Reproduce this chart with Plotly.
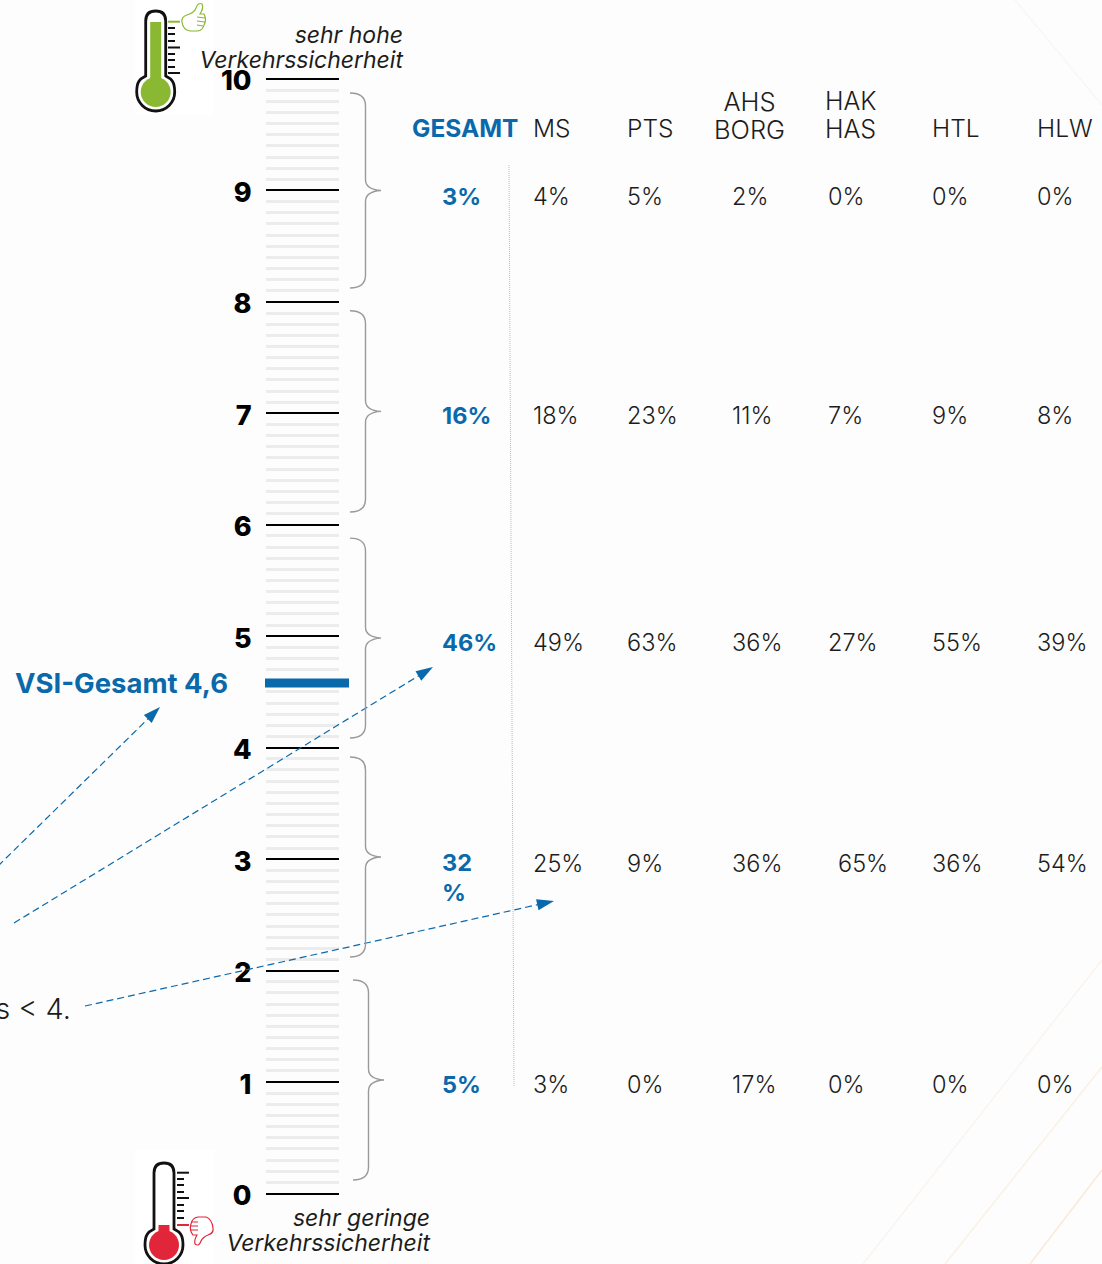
import plotly.graph_objects as go

# ---- data ----
bands = ["8-10", "6-8", "4-6", "2-4", "0-2"]
gesamt_labels = ["3%", "16%", "46%", "32<br>%", "5%"]
ms = ["4%", "18%", "49%", "25%", "3%"]
pts = ["5%", "23%", "63%", "9%", "0%"]
ahs = ["2%", "11%", "36%", "36%", "17%"]
hak = ["0%", "7%", "27%", "65%", "0%"]
htl = ["0%", "9%", "55%", "36%", "0%"]
hlw = ["0%", "8%", "39%", "54%", "0%"]
vsi_gesamt = 4.58
major_ticks = [0, 1, 2, 3, 4, 5, 6, 7, 8, 9, 10]

# ---- layout helpers (kept apart from the data) ----
W, H = 1102, 1264
Y0, PER = 1193.5, 111.45
BLUE = "#0a69ab"
INK = "#1c1c1c"
FONT = "Inter"
LIGHT = 300
row_y = [8.923, 6.958, 4.921, 2.938, 0.955]
gesamt_y = [8.923, 6.958, 4.921, 2.81, 0.955]
col_x = [533, 627, 732, 828, 932, 1037]
brace_spans = [(9.875, 8.125, 350), (7.92, 6.115, 350), (5.88, 4.087, 350), (3.917, 2.122, 350), (1.916, 0.121, 353)]
minor_ticks = [v / 10 for v in range(1, 100) if v % 10]


def px_to_val(p):
    return (Y0 - p) / PER


y_range = [px_to_val(H), px_to_val(0)]
fig = go.Figure()


def text_trace(x, y, text, pos="middle right", size=24, color=INK, weight=LIGHT, style="normal"):
    fig.add_trace(go.Scatter(x=x, y=y, text=text, mode="text", textposition=pos, hoverinfo="skip",
                             showlegend=False,
                             textfont=dict(family=FONT, size=size, color=color, weight=weight, style=style)))


# value bar
fig.add_trace(go.Scatter(x=[265, 349], y=[vsi_gesamt, vsi_gesamt], mode="lines", showlegend=False, hoverinfo="skip",
                         line=dict(color=BLUE, width=9)))

# table
text_trace([533, 627, 932, 1037], [px_to_val(131)] * 4, ["MS", "PTS", "HTL", "HLW"], size=24.5)
text_trace([749.5], [px_to_val(105)], ["AHS"], pos="middle center", size=25.5)
text_trace([749.5], [px_to_val(133)], ["BORG"], pos="middle center", size=25.5)
text_trace([825], [px_to_val(104)], ["HAK"], size=25)
text_trace([825], [px_to_val(132)], ["HAS"], size=25)
text_trace([412], [px_to_val(131)], ["GESAMT"], color=BLUE, weight=700, size=24.5)
text_trace([442] * 5, gesamt_y, gesamt_labels, color=BLUE, weight=700, size=23.5)
for cx, vals in zip(col_x, [ms, pts, ahs, hak, htl, hlw]):
    xs = [cx] * 5
    if vals is hak:
        xs[3] = cx + 10
    text_trace(xs, row_y, vals, size=23.5)

# captions
for cx, cy, label in [(403, 37, "sehr hohe"), (403, 62, "Verkehrssicherheit"),
                      (430, 1220, "sehr geringe"), (430, 1245, "Verkehrssicherheit")]:
    text_trace([cx], [px_to_val(cy)], [label], pos="middle left", size=23, style="italic", weight=400)
text_trace([228], [px_to_val(686)], ["VSI-Gesamt 4,6"], pos="middle left", size=27.5, color=BLUE, weight=700)
text_trace([71], [px_to_val(1012)], ["s &lt; 4."], pos="middle left", size=29)

# dotted separator
fig.add_trace(go.Scatter(x=[509, 514], y=[px_to_val(165), px_to_val(1086)], mode="lines", showlegend=False,
                         hoverinfo="skip", line=dict(color="#9dbfe6", width=1, dash="1px,1px")))

# dashed arrows
for (x0, y0, x1, y1) in [(-2, 866, 160, 707), (14, 923, 433, 667), (85, 1006, 554, 901)]:
    fig.add_trace(go.Scatter(x=[x0, x1], y=[px_to_val(y0), px_to_val(y1)], mode="lines+markers", showlegend=False,
                             hoverinfo="skip", line=dict(color=BLUE, width=1.2, dash="7px,4px"),
                             marker=dict(symbol="arrow", size=[0, 18], angleref="previous", color=BLUE, opacity=1,
                                         line=dict(width=0))))

shapes = []


def P(p, color="rgba(0,0,0,0)", line=None, width=1, layer="above"):
    shapes.append(dict(type="path", path=p, xref="x", yref="y2", fillcolor=color, layer=layer,
                       line=dict(color=line or "rgba(0,0,0,0)", width=width)))


def circle(cx, cy, r):
    k = 0.5523 * r
    return (f"M{cx-r},{cy} C{cx-r},{cy-k} {cx-k},{cy-r} {cx},{cy-r} C{cx+k},{cy-r} {cx+r},{cy-k} {cx+r},{cy} "
            f"C{cx+r},{cy+k} {cx+k},{cy+r} {cx},{cy+r} C{cx-k},{cy+r} {cx-r},{cy+k} {cx-r},{cy} Z")


# background streaks
P("M863,1264 L1102,960", line="#fbf4ee", width=1.5, layer="below")
P("M945,1264 L1102,1067", line="#fbf0e4", width=1.5, layer="below")
P("M1030,1264 L1102,1170", line="#fae9d8", width=1.5, layer="below")
P("M1015,0 L1102,105", line="#f8f7f6", width=1.5, layer="below")

# braces
for top, bot, left in brace_spans:
    t, b = Y0 - top * PER, Y0 - bot * PER
    m = (t + b) / 2
    s = left + 15.5
    e = left + 31
    P(f"M{left},{t} Q{s},{t} {s},{t+13} L{s},{m-11} Q{s},{m-1} {e},{m} Q{s},{m+1} {s},{m+11} L{s},{b-13} Q{s},{b} {left},{b}",
      line="#9a9a9a", width=1.4)

# thermometers
P("M135,0 L214,0 L214,115 L135,115 Z", color="#ffffff", layer="below")
P("M135,1150 L214,1150 L214,1264 L135,1264 Z", color="#ffffff", layer="below")


def thermo(cx, cy, tube_top, hw, fill_top, fill, ticks, accent_y, accent_color, x0):
    r = 19
    k = 0.5523 * r
    P(f"M{cx-hw},{cy-16} L{cx-hw},{tube_top+hw} Q{cx-hw},{tube_top} {cx},{tube_top} Q{cx+hw},{tube_top} {cx+hw},{tube_top+hw} "
      f"L{cx+hw},{cy-16} C{cx+r-3},{cy-13} {cx+r},{cy-k} {cx+r},{cy} C{cx+r},{cy+k} {cx+k},{cy+r} {cx},{cy+r} "
      f"C{cx-k},{cy+r} {cx-r},{cy+k} {cx-r},{cy} C{cx-r},{cy-k} {cx-r+3},{cy-13} {cx-hw},{cy-16} Z",
      color="#ffffff", line="#111111", width=2.8)
    P(f"M{cx-5.5},{cy} L{cx-5.5},{fill_top} L{cx+5.5},{fill_top} L{cx+5.5},{cy} Z", color=fill)
    P(circle(cx, cy, 15), color=fill)
    for ty, long in ticks:
        P(f"M{x0},{ty} L{x0 + (12 if long else 7)},{ty}", line="#111111", width=2)
    P(f"M{x0},{accent_y} L{x0 + 12},{accent_y}", line=accent_color, width=2)


thermo(155.7, 92, 11, 10, 22, "#8ab833",
       [(28, 0), (34, 0), (41, 0), (47.5, 1), (54, 0), (60, 0), (67, 0), (73, 1)], 21.7, "#8ab833", 168)
thermo(164, 1245, 1163, 10, 1225, "#e2263a",
       [(1172.7, 1), (1179, 0), (1185, 0), (1192, 0), (1198, 1), (1205, 0), (1211, 0), (1218, 0)], 1225, "#e2263a", 177)

# thumbs
P("M182,22 Q181,17 187,15 Q194,13 196,8 Q198,2 202,4 Q204,8 200,14 L204,14 Q207,20 204,25 Q203,30 198,31 "
  "L190,31 Q183,30 182,22 Z M197,17 L205,18 M197,21 L205,22 M197,25 L203,26", line="#8ab833", width=1.2)
P("M213,1228 Q214,1233 208,1235 Q203,1237 201,1241 Q199,1247 195,1244 Q194,1240 197,1235 L193,1235 "
  "Q189,1230 191,1224 Q192,1218 198,1217 L206,1217 Q212,1219 213,1228 Z M198,1222 L191,1222 M198,1226 L190,1226 "
  "M198,1230 L191,1230", line="#e2263a", width=1.2)

fig.update_layout(
    width=W, height=H, margin=dict(l=0, r=0, t=0, b=0), showlegend=False,
    paper_bgcolor="#fdfdfd", plot_bgcolor="rgba(0,0,0,0)", shapes=shapes,
    xaxis=dict(range=[0, W], domain=[0, 1], visible=False, fixedrange=True),
    yaxis=dict(range=y_range, anchor="free", position=264.5 / W, tickvals=major_ticks, ticktext=[str(v) for v in major_ticks],
               ticks="inside", ticklen=73, tickwidth=2.4, tickcolor="#000000", showgrid=False, zeroline=False,
               showline=False, ticklabelstandoff=13, ticklabelshift=2, fixedrange=True, layer="below traces",
               tickfont=dict(family=FONT, size=27, color="#000000", weight=800),
               minor=dict(ticks="inside", ticklen=73, tickwidth=3, tickcolor="#ececec", tickvals=minor_ticks, showgrid=False)),
    yaxis2=dict(range=[H, 0], overlaying="y", visible=False, fixedrange=True),
)

fig.write_html("out.html", post_script="document.body.style.margin='0';", config={"displayModeBar": False})
